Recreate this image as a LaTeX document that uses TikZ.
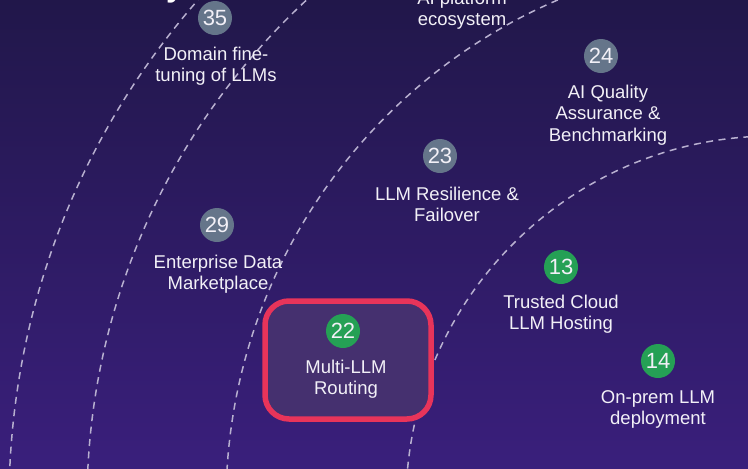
\documentclass[tikz,border=0pt]{standalone}
\usepackage{fontspec}
\setmainfont{Liberation Sans}
\definecolor{bgtop}{HTML}{21174A}
\definecolor{bgbot}{HTML}{3A1F7C}
\definecolor{arcc}{HTML}{B8B0D0}
\definecolor{numgray}{HTML}{65758A}
\definecolor{numgreen}{HTML}{25A055}
\definecolor{hlred}{HTML}{E8345A}
\definecolor{hlfill}{HTML}{45306F}
\definecolor{txt}{HTML}{F2F0F7}
\tikzset{
  ring/.style={draw=arcc, line width=1.5pt, dash pattern=on 7pt off 5.5pt},
  numdot/.style={circle, minimum size=34pt, inner sep=0pt, text=txt, font=\fontsize{22}{22}\selectfont},
  graydot/.style={numdot, fill=numgray},
  greendot/.style={numdot, fill=numgreen},
  lbl/.style={align=center, text=txt, inner sep=0pt, font=\fontsize{18.5}{21.3}\selectfont},
  hlbox/.style={draw=hlred, line width=5.5pt, fill=hlfill, rounded corners=24pt}
}
\begin{document}
\begin{tikzpicture}[x=1pt,y=-1pt]
\useasboundingbox (0,0) rectangle (748,469);
\fill[top color=bgtop, bottom color=bgbot] (0,0) rectangle (748,469);
\begin{scope}
\clip (0,0) rectangle (748,469);
\coordinate (ctr) at (773,503);
\draw[ring] (ctr) circle[radius=764];
\draw[ring] (ctr) circle[radius=686];
\draw[ring] (ctr) circle[radius=547];
\draw[ring] (ctr) circle[radius=367];
\node[text=white, font=\bfseries\fontsize{32}{32}\selectfont, anchor=base, inner sep=0pt] (title) at (175,-3.5) {y};
\end{scope}
% highlight box
\node[hlbox, minimum width=166pt, minimum height=118pt] (hl) at (348,360) {};
% items
\node[lbl] (l0) at (462,10.5) {AI platform\\ecosystem};
\node[graydot] (n35) at (215,18) {35};
\node[lbl] (l35) at (216,66.5) {Domain fine-\\tuning of LLMs};
\node[graydot] (n24) at (601,56) {24};
\node[lbl] (l24) at (608,115) {AI Quality\\Assurance \&\\Benchmarking};
\node[graydot] (n23) at (440,156) {23};
\node[lbl] (l23) at (447,204.5) {LLM Resilience \&\\Failover};
\node[graydot] (n29) at (217,225) {29};
\node[lbl] (l29) at (218,274) {Enterprise Data\\Marketplace};
\node[greendot] (n22) at (343,331) {22};
\node[lbl] (l22) at (346,379.5) {Multi-LLM\\Routing};
\node[greendot] (n13) at (561,267) {13};
\node[lbl] (l13) at (561,314.5) {Trusted Cloud\\LLM Hosting};
\node[greendot] (n14) at (658,361) {14};
\node[lbl] (l14) at (658,409.5) {On-prem LLM\\deployment};
\end{tikzpicture}
\end{document}
